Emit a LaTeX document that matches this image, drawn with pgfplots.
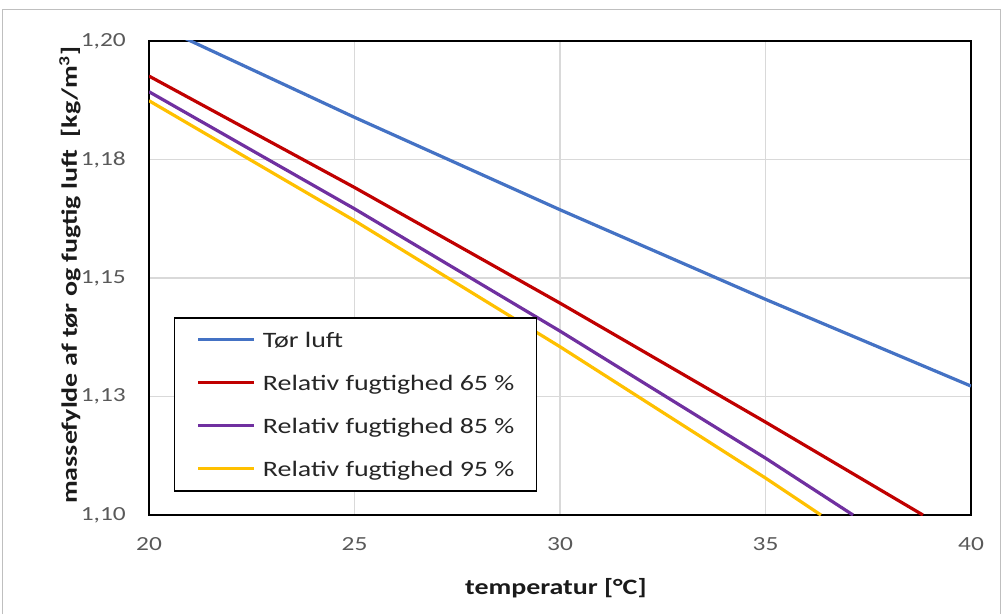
\documentclass[border=0pt]{standalone}
\usepackage{fontspec}
\setmainfont{Carlito}[FakeStretch=1.27]
\usepackage{pgfplots}
\pgfplotsset{compat=1.18}
\definecolor{cblue}{HTML}{4472C4}
\definecolor{cred}{HTML}{C00000}
\definecolor{cpurple}{HTML}{7030A0}
\definecolor{cyellow}{HTML}{FFC000}
\definecolor{tickgray}{HTML}{595959}
\definecolor{gridgray}{HTML}{D9D9D9}
\definecolor{labeltext}{HTML}{1A1A1A}
\definecolor{legtext}{HTML}{262626}
\definecolor{framegray}{HTML}{BFBFBF}
\begin{document}
\begin{tikzpicture}
\useasboundingbox (0,0) rectangle (1003pt,614pt);
\draw[framegray, line width=1pt] (2pt,0pt) -- (2pt,604pt) -- (1000pt,604pt) -- (1000pt,0pt);
\begin{axis}[
  at={(149pt,99pt)}, anchor=south west,
  scale only axis, width=822pt, height=474pt,
  xmin=20, xmax=40, ymin=1.1, ymax=1.2,
  xtick={20,25,30,35,40},
  ytick={1.1,1.125,1.15,1.175,1.2},
  yticklabels={{1,10},{1,13},{1,15},{1,18},{1,20}},
  /pgf/number format/assume math mode=true,
  tick label style={font=\fontsize{20}{24}\selectfont, text=tickgray},
  xticklabel style={anchor=north, inner sep=0pt, yshift=-22pt},
  yticklabel style={anchor=east, inner sep=0pt, xshift=-23pt},
  major tick length=0pt,
  grid=major,
  major grid style={draw=gridgray, line width=1.3pt},
  axis line style={draw=black, line width=1.6pt},
  xlabel={\bfseries temperatur [°C]},
  ylabel={\bfseries massefylde af tør og fugtig luft\ \ [kg/m\textsuperscript{3}]},
  label style={font=\fontsize{22}{26}\selectfont, text=labeltext},
  xlabel style={at={(axis description cs:0.495,-0.154)}, anchor=center},
  ylabel style={at={(axis description cs:-0.0961,0.506)}, anchor=center},
  legend cell align=left,
  legend image code/.code={\draw[#1] (0pt,0pt) -- (56pt,0pt);},
  legend style={at={(0.0304,0.4177)}, anchor=north west,
    draw=black, line width=1.5pt, fill=white,
    inner xsep=22pt, inner ysep=10pt,
    row sep=19pt, column sep=7pt,
    font=\fontsize{22}{26}\selectfont, text=legtext,
    nodes={inner sep=0pt, text height=20pt, text depth=4pt}},
  every axis plot/.append style={line width=3.2pt, line join=round},
]
\addplot[cblue] coordinates {(20,1.2041) (25,1.1839) (30,1.1644) (35,1.1455) (40,1.1272)};
\addlegendentry{Tør luft}
\addplot[cred] coordinates {(20,1.1926) (25,1.1691) (30,1.1447) (35,1.1196) (38.83,1.10)};
\addlegendentry{Relativ fugtighed 65 \%}
\addplot[cpurple] coordinates {(20,1.1893) (25,1.1646) (30,1.1388) (35,1.1120) (37.13,1.10)};
\addlegendentry{Relativ fugtighed 85 \%}
\addplot[cyellow] coordinates {(20,1.1874) (25,1.1621) (30,1.1355) (35,1.1078) (36.35,1.10)};
\addlegendentry{Relativ fugtighed 95 \%}
\end{axis}
\end{tikzpicture}
\end{document}
